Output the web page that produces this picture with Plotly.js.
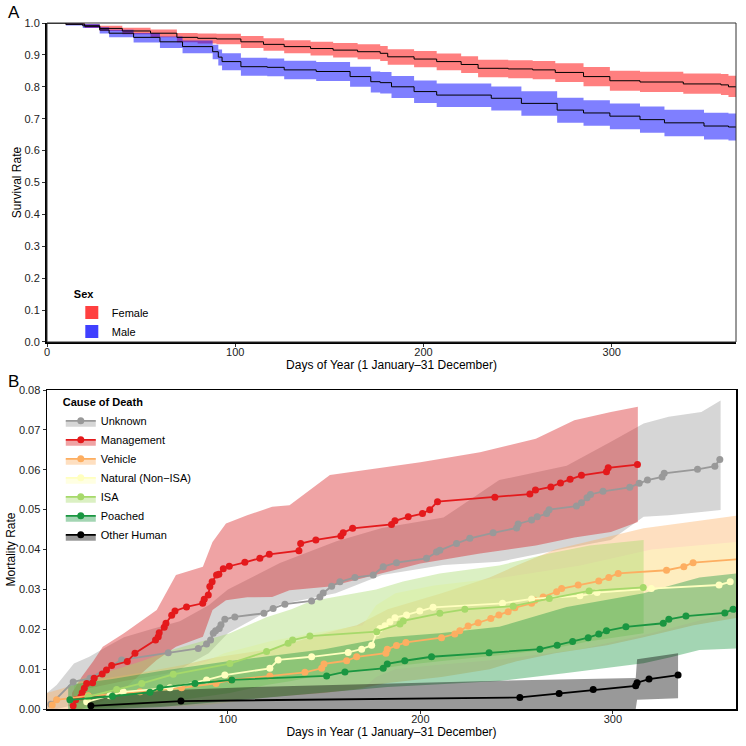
<!DOCTYPE html>
<html><head><meta charset="utf-8">
<script src="https://cdn.plot.ly/plotly-3.0.1.min.js"></script>
<style>html,body{margin:0;padding:0;background:#fff}#chart{width:746px;height:746px}</style>
</head><body><div id="chart"></div>
<script>
// ---------- Panel A: survival by sex ----------
const femaleDays = [0,10,20,28,40,55,69,80,90,103,115,126,140,152,165,177,181,195,207,220,229,245,258,270,285,299,315,338,358,362,366];
const femaleSurv = [1.0,.997,.99,.983,.975,.968,.955,.952,.95,.941,.933,.926,.92,.915,.91,.905,.894,.887,.879,.87,.858,.856,.853,.845,.832,.819,.815,.809,.806,.80,.80];
const femaleLo   = [1.0,.994,.984,.975,.965,.955,.940,.936,.933,.922,.913,.905,.898,.892,.886,.881,.869,.861,.852,.843,.830,.827,.824,.815,.802,.788,.784,.778,.774,.768,.768];
const femaleHi   = [1.0,1.0,.996,.991,.985,.980,.969,.967,.966,.959,.952,.946,.941,.937,.933,.928,.918,.912,.904,.896,.885,.883,.881,.874,.862,.850,.847,.842,.840,.835,.835];

const maleDays = [0,10,19,28,33,46,60,72,88,91,93,103,117,126,143,161,172,177,183,195,207,236,252,271,285,299,315,328,349,362,366];
const maleSurv = [1.0,.996,.991,.978,.968,.955,.941,.926,.910,.893,.879,.863,.861,.853,.848,.832,.816,.813,.800,.785,.774,.764,.748,.727,.718,.708,.697,.687,.677,.674,.674];
const maleLo   = [1.0,.992,.984,.967,.955,.939,.922,.905,.886,.867,.852,.835,.833,.824,.818,.800,.782,.779,.765,.749,.737,.726,.709,.687,.678,.667,.656,.645,.635,.632,.632];
const maleHi   = [1.0,.999,.997,.987,.979,.969,.958,.945,.932,.917,.905,.891,.889,.882,.878,.863,.848,.846,.834,.820,.810,.801,.786,.766,.758,.748,.738,.728,.719,.716,.716];

const sexNames = ["Female","Male"];

// ---------- Panel B: cause-specific mortality ----------
const causeNames = ["Unknown","Management","Vehicle","Natural (Non\u2212ISA)","ISA","Poached","Other Human"];

const unknownDays = [8,19.6,28.3,44.8,69,84.6,88.9,91,92.4,93.6,95.5,96.4,98.4,103.6,118.7,123.5,129.6,143.5,147.8,149.5,153.9,158.2,166,175.5,180.7,187.6,203.2,208.4,210.1,218.8,225.7,237.8,250,250.8,257.8,260.7,265.6,266.9,281.1,283.7,286.6,288.4,294.9,308.8,313.7,318,325.6,326.7,344,353,355.6];
const unknownRate = [0.0012,0.0068,0.0077,0.0123,0.0141,0.0152,0.0163,0.0173,0.0190,0.0196,0.0202,0.0211,0.0225,0.0231,0.0240,0.0252,0.0263,0.0271,0.0281,0.0291,0.0308,0.0319,0.0330,0.0336,0.0357,0.0367,0.0378,0.0394,0.0398,0.0415,0.0428,0.0442,0.0454,0.0464,0.0474,0.0482,0.0490,0.0500,0.0509,0.0517,0.0530,0.0538,0.0546,0.0556,0.0566,0.0574,0.0582,0.0591,0.0601,0.0609,0.0626];
const unknownBandDays = [6,11,20,28,37,46,60,75,90,100,127,156,180,212,241,276,299,316,329,346,356];
const unknownBandLo = [0,0,0.001,0.002,0.003,0.005,0.007,0.010,0.014,0.019,0.0262,0.029,0.0336,0.0361,0.0369,0.0403,0.0424,0.0482,0.0486,0.0494,0.0499];
const unknownBandHi = [0.004,0.006,0.0114,0.0131,0.0156,0.018,0.020,0.022,0.026,0.030,0.0366,0.042,0.0454,0.048,0.0574,0.061,0.067,0.0716,0.0733,0.0745,0.0774];

const mgmtDays = [19.6,20.9,23.6,24.3,25.4,26.6,29.7,30.5,34.7,36.9,39.6,47.7,51.7,62.4,63.8,64.3,66.9,67.8,70.8,72.5,78.5,86.9,87.7,89.8,90.6,91.8,94.1,95.3,97.6,100.7,108.8,116.6,121.5,136.9,137.8,145.7,158.7,159.9,164.8,185,186.8,193.7,201.1,204.9,208.9,238.7,256.9,259.8,267.8,272.8,277.8,283.7,296.7,297.6,312.8];
const mgmtRate = [0.0008,0.0023,0.0031,0.0041,0.0052,0.0064,0.0066,0.0077,0.0088,0.0098,0.0109,0.0119,0.0140,0.0173,0.0181,0.0191,0.0205,0.0215,0.0235,0.0246,0.0256,0.0265,0.0275,0.0286,0.0307,0.0319,0.0336,0.0338,0.0352,0.0358,0.0368,0.0378,0.0388,0.0397,0.0415,0.0424,0.0434,0.0442,0.0453,0.0463,0.0472,0.0482,0.0490,0.0500,0.0520,0.0531,0.0539,0.0549,0.0557,0.0567,0.0576,0.0586,0.0595,0.0605,0.0613];
const mgmtBandDays = [19,24,30,35,46,63,73,87,92,99,110,123,132,153,200,231,260,280,299,313];
const mgmtBandLo = [0,0,0.001,0.002,0.005,0.0123,0.0156,0.0181,0.0248,0.0273,0.028,0.0281,0.0298,0.0307,0.0365,0.039,0.041,0.043,0.0444,0.0469];
const mgmtBandHi = [0.004,0.008,0.012,0.0156,0.019,0.0248,0.0336,0.0357,0.0419,0.0465,0.0486,0.0507,0.0511,0.0587,0.0619,0.0644,0.0678,0.0724,0.0745,0.0758];

const vehicleDays = [8.7,11,27.4,54.3,75.9,93.8,101.6,121.8,140,148.7,149.9,161.7,166.9,182.1,182.8,187.6,192.5,211,217.9,220.5,224.8,230,236.6,240.8,245.6,249.1,257.8,259.5,263.8,270.8,273.4,282,292.7,297.9,302.8,327.9,336.9,341.7,366];
const vehicleRate = [0.0010,0.0023,0.0033,0.0043,0.0053,0.0064,0.0073,0.0083,0.0092,0.0102,0.0113,0.0121,0.0131,0.0140,0.0150,0.0159,0.0167,0.0179,0.0188,0.0196,0.0208,0.0216,0.0227,0.0236,0.0244,0.0254,0.0265,0.0273,0.0281,0.0294,0.0302,0.0311,0.0321,0.0330,0.0340,0.0348,0.0357,0.0367,0.0376];
const vehicleBandDays = [6,27,54,76,94,122,150,167,183,211,236,250,270,297,316,342,366];
const vehicleBandLo = [0,0,0.0005,0.001,0.002,0.003,0.004,0.005,0.0065,0.008,0.010,0.012,0.014,0.016,0.018,0.021,0.023];
const vehicleBandHi = [0.004,0.007,0.009,0.011,0.013,0.015,0.019,0.021,0.025,0.029,0.033,0.036,0.040,0.043,0.0453,0.047,0.0486];

const naturalDays = [26.6,38.7,45.6,69.9,88.9,98.4,121.8,126.1,143.5,162.5,169.5,174.7,177.3,179,181.6,184.2,186.8,192.8,199.7,206.6,242.7,257.8,282.9,291.8,320,355.2,361];
const naturalRate = [0.0018,0.0033,0.0043,0.0053,0.0073,0.0085,0.0102,0.0123,0.0131,0.0142,0.0150,0.0160,0.0191,0.0202,0.0209,0.0219,0.0229,0.0236,0.0246,0.0255,0.0265,0.0276,0.0284,0.0292,0.0302,0.0311,0.0319];
const naturalBandDays = [26,46,70,89,98,122,144,170,177,187,207,243,283,320,366];
const naturalBandLo = [0,0,0.0005,0.001,0.0015,0.003,0.004,0.005,0.008,0.010,0.011,0.0125,0.015,0.019,0.0248];
const naturalBandHi = [0.005,0.007,0.009,0.012,0.014,0.017,0.019,0.021,0.026,0.029,0.031,0.033,0.036,0.040,0.042];

const isaDays = [27.4,42.2,55.2,71.6,101,120.1,131.3,133.6,142.6,177.3,189.4,191.1,210.1,223.1,248.2,267,287.7,315.8];
const isaRate = [0.0031,0.0049,0.0064,0.0087,0.0114,0.0144,0.0165,0.0173,0.0183,0.0194,0.0213,0.0221,0.0240,0.0250,0.0258,0.0277,0.0296,0.0305];
const isaBandDays = [20,42,55,72,101,120,133,143,177,191,210,241,267,288,316];
const isaBandLo = [0,0.0005,0.001,0.002,0.004,0.006,0.007,0.008,0.010,0.011,0.012,0.0135,0.015,0.017,0.019];
const isaBandHi = [0.007,0.010,0.012,0.015,0.019,0.023,0.025,0.027,0.030,0.032,0.034,0.036,0.039,0.041,0.0424];

const poachedDays = [17.9,40,59.5,64.7,82.9,102,151.3,160.8,180.7,182.8,191.9,205.8,235.7,262.1,271.1,279.1,287.2,292.7,296.7,306.8,326.2,329.1,338,358.2,362.5];
const poachedRate = [0.0023,0.0032,0.0042,0.0053,0.0064,0.0073,0.0083,0.0093,0.0102,0.0113,0.0121,0.0131,0.0141,0.0150,0.0160,0.0169,0.0179,0.0188,0.0196,0.0206,0.0215,0.0225,0.0233,0.0241,0.0250];
const poachedBandDays = [17,40,65,100,150,183,210,241,276,316,330,345,366];
const poachedBandLo = [0,0,0.0005,0.002,0.004,0.0055,0.0062,0.007,0.009,0.0115,0.013,0.0148,0.0152];
const poachedBandHi = [0.006,0.0075,0.0095,0.012,0.015,0.018,0.019,0.0206,0.0256,0.029,0.031,0.033,0.0341];

const otherDays = [28.8,75.6,251.7,272.1,289.8,311.9,312.6,318.8,333.9];
const otherRate = [0.0008,0.0020,0.0029,0.0039,0.0049,0.0058,0.0066,0.0075,0.0085];
const otherBandDays = [28.8,75.6,113,150,251.7,311.9,312.6,333.9];
const otherBandLo = [0,0,0,0,0,0,0.0023,0.0027];
const otherBandHi = [0.0035,0.0048,0.0055,0.006,0.0072,0.0078,0.0125,0.0140];

// ---------- styles ----------
const sexLine = ["#000000","#000000"];
const sexFill = ["rgba(255,0,0,0.5)","rgba(0,0,255,0.5)"];
const sexKey  = ["#FF4040","#4040FF"];
const causeLine = ["#999999","#E41A1C","#FDAE61","#FFFFBF","#A6D96A","#1A9641","#000000"];
const causeFill = ["rgba(153,153,153,0.4)","rgba(215,25,28,0.4)","rgba(253,174,97,0.4)","rgba(255,255,191,0.45)","rgba(166,217,106,0.4)","rgba(26,150,65,0.4)","rgba(0,0,0,0.4)"];

const FONT = "Liberation Sans, Arial, Helvetica, sans-serif";
const traces = [];

function band(x, lo, hi, fill, xa, ya, shape){
  traces.push({x:x, y:lo, xaxis:xa, yaxis:ya, mode:'lines', line:{width:0, shape:shape}, hoverinfo:'skip', showlegend:false});
  traces.push({x:x, y:hi, xaxis:xa, yaxis:ya, mode:'lines', line:{width:0, shape:shape}, fill:'tonexty', fillcolor:fill, hoverinfo:'skip', showlegend:false});
}

// Panel A
const sexData = [[femaleDays,femaleSurv,femaleLo,femaleHi],[maleDays,maleSurv,maleLo,maleHi]];
sexData.forEach((d,i)=>band(d[0], d[2], d[3], sexFill[i], 'x', 'y', 'hv'));
sexData.forEach((d,i)=>traces.push({x:d[0], y:d[1], xaxis:'x', yaxis:'y', mode:'lines', line:{color:sexLine[i], width:1, shape:'hv'}, showlegend:false, name:sexNames[i]}));
sexNames.forEach((n,i)=>traces.push({x:[null], y:[null], xaxis:'x', yaxis:'y', mode:'markers', marker:{symbol:'square', size:13, color:sexKey[i]}, name:n, legend:'legend'}));

// Panel B
const causeData = [
  [unknownDays,unknownRate,unknownBandDays,unknownBandLo,unknownBandHi],
  [mgmtDays,mgmtRate,mgmtBandDays,mgmtBandLo,mgmtBandHi],
  [vehicleDays,vehicleRate,vehicleBandDays,vehicleBandLo,vehicleBandHi],
  [naturalDays,naturalRate,naturalBandDays,naturalBandLo,naturalBandHi],
  [isaDays,isaRate,isaBandDays,isaBandLo,isaBandHi],
  [poachedDays,poachedRate,poachedBandDays,poachedBandLo,poachedBandHi],
  [otherDays,otherRate,otherBandDays,otherBandLo,otherBandHi]
];
causeData.forEach((d,i)=>band(d[2], d[3], d[4], causeFill[i], 'x2', 'y2', 'linear'));
causeData.forEach((d,i)=>traces.push({x:d[0], y:d[1], xaxis:'x2', yaxis:'y2', mode:'lines+markers',
  line:{color:causeLine[i], width:1.8}, marker:{color:causeLine[i], size:7}, showlegend:false, name:causeNames[i]}));
causeNames.forEach((n,i)=>traces.push({x:[null], y:[null], xaxis:'x2', yaxis:'y2', mode:'lines+markers', fill:'toself', fillcolor:causeFill[i],
  line:{color:causeLine[i], width:1.8}, marker:{color:causeLine[i], size:7}, name:n, legend:'legend2'}));

const tickFont = {family:FONT, size:11, color:'#222'};
const titleFont = {family:FONT, size:12, color:'#000'};

const layout = {
  width:746, height:746,
  margin:{l:47, r:10, t:23, b:37},
  paper_bgcolor:'#fff', plot_bgcolor:'#fff',
  font:{family:FONT, color:'#000'},
  xaxis:{domain:[0,1], range:[0,366], tickvals:[0,100,200,300], ticks:'outside', ticklen:3, tickcolor:'#333', ticklabelstandoff:-4,
    showline:true, linecolor:'#000', linewidth:2, showgrid:false, zeroline:false, tickfont:tickFont, automargin:'left',
    title:{text:'Days of Year (1 January\u201331 December)', font:titleFont, standoff:0}, anchor:'y'},
  yaxis:{domain:[0.535,1], range:[0,1], dtick:0.1, tickformat:'.1f', ticks:'outside', ticklen:3, tickcolor:'#333',
    showline:true, linecolor:'#000', linewidth:2, showgrid:false, zeroline:false, tickfont:tickFont, automargin:'top',
    title:{text:'Survival Rate', font:titleFont, standoff:0}, anchor:'x'},
  xaxis2:{domain:[0,1], range:[6,364], tickvals:[100,200,300], ticks:'outside', ticklen:3, tickcolor:'#333', ticklabelstandoff:-4,
    showline:true, mirror:true, linecolor:'#000', linewidth:1.5, showgrid:false, zeroline:false, tickfont:tickFont, automargin:'left',
    title:{text:'Days in Year (1 January\u201331 December)', font:titleFont, standoff:1}, anchor:'y2'},
  yaxis2:{domain:[0,0.465], range:[0,0.08], dtick:0.01, tickformat:'.2f', ticks:'outside', ticklen:3, tickcolor:'#333',
    showline:true, mirror:true, linecolor:'#000', linewidth:1.5, showgrid:false, zeroline:false, tickfont:tickFont, automargin:'top',
    title:{text:'Mortality Rate', font:titleFont, standoff:0}, anchor:'x2'},
  shapes:[{type:'rect', xref:'x domain', yref:'y domain', x0:0, x1:1, y0:0, y1:1, line:{color:'#333', width:1}, fillcolor:'rgba(0,0,0,0)', layer:'above'}],
  legend:{x:0.036, y:0.62, xanchor:'left', yanchor:'top', bgcolor:'rgba(0,0,0,0)', font:{family:FONT, size:11}, traceorder:'normal',
    title:{text:'<b>Sex</b>', font:{family:FONT, size:11}}, tracegroupgap:0, itemwidth:30},
  legend2:{x:0.02, y:0.462, xanchor:'left', yanchor:'top', bgcolor:'rgba(0,0,0,0)', font:{family:FONT, size:11}, traceorder:'normal',
    title:{text:'<b>Cause of Death</b>', font:{family:FONT, size:11}}, tracegroupgap:0, itemwidth:30},
  annotations:[
    {text:'A', xref:'paper', yref:'paper', x:-0.048, y:1.016, showarrow:false, font:{family:FONT, size:17}, xanchor:'center', yanchor:'middle'},
    {text:'B', xref:'paper', yref:'paper', x:-0.048, y:0.4767, showarrow:false, font:{family:FONT, size:17}, xanchor:'center', yanchor:'middle'}
  ]
};

Plotly.newPlot('chart', traces, layout, {displayModeBar:false, staticPlot:true});
</script></body></html>
